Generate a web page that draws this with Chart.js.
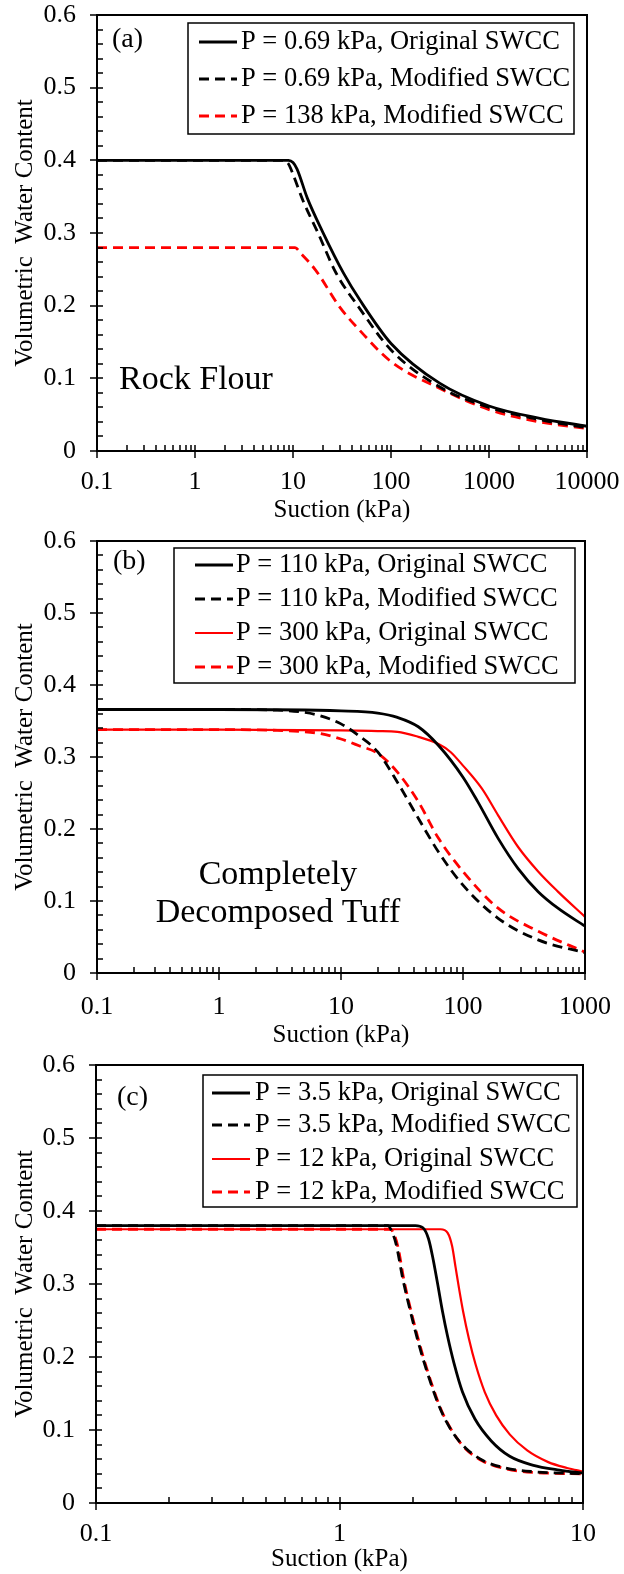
<!DOCTYPE html>
<html>
<head>
<meta charset="utf-8">
<script src="https://cdn.jsdelivr.net/npm/chart.js@4.4.0/dist/chart.umd.min.js"></script>
<style>
  html, body { margin: 0; padding: 0; background: #fff; }
  body { position: relative; width: 624px; height: 1574px; overflow: hidden; }
  canvas { position: absolute; left: 0; }
</style>
</head>
<body>
<canvas id="panelA" width="624" height="530" style="top:0px"></canvas>
<canvas id="panelB" width="624" height="530" style="top:520px"></canvas>
<canvas id="panelC" width="624" height="534" style="top:1040px"></canvas>
<script>
// --- (a) Rock Flour ---
const aSuctionOrig069 = [0.1, 9, 10, 11, 14, 20, 33, 48, 100, 316, 1000, 3300, 10000];
const aThetaOrig069   = [0.400, 0.400, 0.397, 0.388, 0.348, 0.302, 0.244, 0.208, 0.148, 0.093, 0.062, 0.045, 0.034];
const aSuctionMod069  = [0.1, 8, 9, 10, 12.6, 18, 27.5, 48, 100, 316, 1000, 3300, 10000];
const aThetaMod069    = [0.400, 0.400, 0.395, 0.381, 0.345, 0.300, 0.245, 0.196, 0.139, 0.088, 0.060, 0.043, 0.032];
const aSuctionMod138  = [0.1, 10.5, 12, 17, 30, 48, 100, 316, 1000, 3300, 10000];
const aThetaMod138    = [0.280, 0.280, 0.272, 0.249, 0.198, 0.166, 0.123, 0.086, 0.057, 0.040, 0.031];
const aXTicks  = [0.1, 1, 10, 100, 1000, 10000];
const aXLabels = ['0.1', '1', '10', '100', '1000', '10000'];

// --- (b) Completely Decomposed Tuff ---
const bSuctionOrig110 = [0.1, 1, 10, 20, 29, 43, 63, 100, 132, 194, 283, 413, 600, 1000];
const bThetaOrig110   = [0.366, 0.366, 0.364, 0.361, 0.355, 0.342, 0.316, 0.272, 0.238, 0.187, 0.145, 0.113, 0.090, 0.065];
const bSuctionMod110  = [0.1, 1, 3, 4.5, 6.5, 10, 13.9, 20, 29, 43, 63, 100, 194, 413, 1000];
const bThetaMod110    = [0.366, 0.366, 0.365, 0.363, 0.358, 0.346, 0.330, 0.307, 0.265, 0.215, 0.168, 0.122, 0.076, 0.046, 0.028];
const bSuctionOrig300 = [0.1, 1, 10, 20, 29, 43, 63, 79, 100, 143, 194, 283, 413, 600, 1000];
const bThetaOrig300   = [0.338, 0.338, 0.337, 0.336, 0.335, 0.328, 0.318, 0.307, 0.288, 0.256, 0.219, 0.175, 0.141, 0.113, 0.078];
const bSuctionMod300  = [0.1, 1, 3, 4.5, 6.5, 10, 13.9, 20, 29, 43, 63, 100, 194, 413, 1000];
const bThetaMod300    = [0.338, 0.338, 0.337, 0.3355, 0.333, 0.325, 0.316, 0.305, 0.279, 0.238, 0.187, 0.141, 0.090, 0.058, 0.029];
const bXTicks  = [0.1, 1, 10, 100, 1000];
const bXLabels = ['0.1', '1', '10', '100', '1000'];

// --- (c) ---
const cSuctionOrig35 = [0.1, 2.05, 2.2, 2.32, 2.42, 2.53, 2.65, 2.78, 2.95, 3.2, 3.6, 4.2, 5.0, 6.2, 8.0, 10];
const cThetaOrig35   = [0.380, 0.380, 0.377, 0.362, 0.335, 0.300, 0.262, 0.228, 0.192, 0.152, 0.115, 0.085, 0.064, 0.052, 0.045, 0.041];
const cSuctionMod35  = [0.1, 1.58, 1.64, 1.71, 1.82, 1.98, 2.14, 2.35, 2.6, 2.9, 3.3, 3.9, 4.8, 6.2, 10];
const cThetaMod35    = [0.380, 0.380, 0.372, 0.354, 0.307, 0.255, 0.212, 0.168, 0.128, 0.098, 0.075, 0.058, 0.048, 0.043, 0.040];
const cSuctionOrig12 = [0.1, 2.6, 2.78, 2.9, 3.0, 3.1, 3.22, 3.4, 3.62, 3.95, 4.4, 5.0, 5.9, 7.2, 8.6, 10];
const cThetaOrig12   = [0.375, 0.375, 0.370, 0.352, 0.322, 0.293, 0.262, 0.225, 0.190, 0.152, 0.120, 0.094, 0.072, 0.056, 0.048, 0.043];
const cSuctionMod12  = [0.1, 1.62, 1.68, 1.74, 1.84, 2.0, 2.16, 2.37, 2.62, 2.92, 3.3, 3.9, 4.8, 6.2, 10];
const cThetaMod12    = [0.375, 0.375, 0.367, 0.350, 0.305, 0.253, 0.211, 0.167, 0.127, 0.097, 0.074, 0.057, 0.047, 0.042, 0.040];
const cXTicks  = [0.1, 1, 10];
const cXLabels = ['0.1', '1', '10'];

// shared y axis
const yTicks  = [0, 0.1, 0.2, 0.3, 0.4, 0.5, 0.6];
const yLabels = ['0', '0.1', '0.2', '0.3', '0.4', '0.5', '0.6'];
const xTitle = 'Suction (kPa)';
const yTitle = 'Volumetric  Water Content';

const SERIF = '"Liberation Serif", "Times New Roman", serif';
const RED = '#ff0000';
const BLACK = '#000000';

const pts = (xs, ys) => xs.map((x, i) => ({ x: x, y: ys[i] }));

const series = (label, xs, ys, color, dashed, width) => ({
    label: label,
    data: pts(xs, ys),
    borderColor: color,
    backgroundColor: color,
    borderWidth: width || 2.8,
    borderDash: dashed ? [10, 6] : [],
    pointRadius: 0,
    fill: false,
    cubicInterpolationMode: 'monotone'
});

// keep label overflow from pushing the plot area around
const noPad = s => { s.paddingTop = 0; s.paddingBottom = 0; s.paddingLeft = 0; s.paddingRight = 0; };

// frame around the plot plus log/linear minor ticks
const axisFrame = {
    id: 'axisFrame',
    afterDatasetsDraw(chart) {
        const { ctx, chartArea: { left, right, top, bottom }, scales: { x, y } } = chart;
        ctx.save();
        ctx.strokeStyle = '#000';
        ctx.lineWidth = 1.5;
        ctx.beginPath();
        // x: minor ticks inside, majors crossing the axis
        for (let d = x.min; d < x.max * 0.999; d *= 10) {
            const px = Math.round(x.getPixelForValue(d));
            ctx.moveTo(px, bottom - 6); ctx.lineTo(px, bottom + 7);
            for (let k = 2; k <= 9; k++) {
                const mx = Math.round(x.getPixelForValue(d * k));
                ctx.moveTo(mx, bottom); ctx.lineTo(mx, bottom - 6);
            }
        }
        const xe = Math.round(x.getPixelForValue(x.max));
        ctx.moveTo(xe, bottom - 6); ctx.lineTo(xe, bottom + 7);
        // y: minor every 0.02
        for (let i = 0; i <= 30; i++) {
            const py = Math.round(y.getPixelForValue(i * 0.02));
            if (i % 5 === 0) { ctx.moveTo(left - 7, py); ctx.lineTo(left + 6, py); }
            else { ctx.moveTo(left, py); ctx.lineTo(left + 6, py); }
        }
        ctx.stroke();
        ctx.lineWidth = 2;
        ctx.strokeRect(left, top, right - left, bottom - top);
        ctx.restore();
    }
};

// boxed legend inside the plot area
const boxLegend = {
    id: 'boxLegend',
    afterDraw(chart, args, o) {
        const ctx = chart.ctx;
        const [x1, y1, x2, y2] = o.box;
        ctx.save();
        ctx.fillStyle = '#fff';
        ctx.fillRect(x1, y1, x2 - x1, y2 - y1);
        ctx.strokeStyle = '#000';
        ctx.lineWidth = 1.5;
        ctx.strokeRect(x1, y1, x2 - x1, y2 - y1);
        ctx.font = '26.5px ' + SERIF;
        ctx.textBaseline = 'middle';
        chart.data.datasets.forEach((ds, i) => {
            const ly = o.rows[i];
            ctx.strokeStyle = ds.borderColor;
            ctx.lineWidth = ds.borderWidth;
            ctx.setLineDash(ds.borderDash);
            ctx.beginPath();
            ctx.moveTo(o.line[0], ly);
            ctx.lineTo(o.line[1], ly);
            ctx.stroke();
            ctx.setLineDash([]);
            ctx.fillStyle = '#000';
            ctx.fillText(ds.label, o.textX, ly);
        });
        ctx.restore();
    }
};

// panel tag and material name
const notes = {
    id: 'notes',
    afterDraw(chart, args, o) {
        const ctx = chart.ctx;
        ctx.save();
        ctx.fillStyle = '#000';
        ctx.textBaseline = 'middle';
        o.items.forEach(n => {
            ctx.font = n.size + 'px ' + SERIF;
            ctx.textAlign = n.align || 'left';
            ctx.fillText(n.text, n.x, n.y);
        });
        ctx.restore();
    }
};

function makePanel(id, p) {
    return new Chart(document.getElementById(id), {
        type: 'line',
        data: { datasets: p.datasets },
        options: {
            responsive: false,
            animation: false,
            devicePixelRatio: 1,
            layout: { padding: { top: p.top, right: p.right, left: 0, bottom: 0 } },
            plugins: {
                legend: { display: false },
                tooltip: { enabled: false },
                boxLegend: p.legend,
                notes: { items: p.notes }
            },
            scales: {
                x: {
                    type: 'logarithmic',
                    min: p.xTicks[0],
                    max: p.xTicks[p.xTicks.length - 1],
                    afterBuildTicks: s => { s.ticks = p.xTicks.map(v => ({ value: v })); },
                    afterFit: s => { s.height = p.xHeight; noPad(s); },
                    grid: { display: false, drawTicks: false },
                    border: { display: false },
                    ticks: {
                        autoSkip: false, maxRotation: 0, padding: p.xPad, color: '#000',
                        font: { family: SERIF, size: 26 },
                        callback: (v, i) => p.xLabels[i]
                    },
                    title: {
                        display: true, text: xTitle, color: '#000',
                        font: { family: SERIF, size: 25 },
                        padding: { top: 0, bottom: p.xTitlePad }
                    }
                },
                y: {
                    type: 'linear',
                    min: 0,
                    max: 0.6,
                    afterBuildTicks: s => { s.ticks = yTicks.map(v => ({ value: v })); },
                    afterFit: s => { s.width = p.yWidth; noPad(s); },
                    grid: { display: false, drawTicks: false },
                    border: { display: false },
                    ticks: {
                        padding: 21, color: '#000',
                        font: { family: SERIF, size: 26 },
                        callback: (v, i) => yLabels[i]
                    },
                    title: {
                        display: true, text: yTitle, color: '#000',
                        font: { family: SERIF, size: 25 },
                        padding: { top: 10, bottom: 0 }
                    }
                }
            }
        },
        plugins: [axisFrame, boxLegend, notes]
    });
}

makePanel('panelA', {
    top: 15, right: 37, yWidth: 97, xHeight: 79, xPad: 16, xTitlePad: 5,
    xTicks: aXTicks, xLabels: aXLabels,
    datasets: [
        series('P = 0.69 kPa, Original SWCC', aSuctionOrig069, aThetaOrig069, BLACK, false),
        series('P = 0.69 kPa, Modified SWCC', aSuctionMod069, aThetaMod069, BLACK, true),
        series('P = 138 kPa, Modified SWCC', aSuctionMod138, aThetaMod138, RED, true)
    ],
    legend: { box: [188, 23, 574, 134], rows: [42, 79, 116], line: [199, 237], textX: 241 },
    notes: [
        { text: '(a)', x: 112, y: 40, size: 28 },
        { text: 'Rock Flour', x: 119, y: 380, size: 34 }
    ]
});

makePanel('panelB', {
    top: 21, right: 39, yWidth: 97, xHeight: 77, xPad: 19, xTitlePad: 0,
    xTicks: bXTicks, xLabels: bXLabels,
    datasets: [
        series('P = 110 kPa, Original SWCC', bSuctionOrig110, bThetaOrig110, BLACK, false),
        series('P = 110 kPa, Modified SWCC', bSuctionMod110, bThetaMod110, BLACK, true),
        series('P = 300 kPa, Original SWCC', bSuctionOrig300, bThetaOrig300, RED, false, 2.2),
        series('P = 300 kPa, Modified SWCC', bSuctionMod300, bThetaMod300, RED, true)
    ],
    legend: { box: [174, 28, 575, 163], rows: [45, 79, 113, 147], line: [195, 233], textX: 236 },
    notes: [
        { text: '(b)', x: 113, y: 42, size: 28 },
        { text: 'Completely', x: 278, y: 355, size: 34, align: 'center' },
        { text: 'Decomposed Tuff', x: 278, y: 393, size: 34, align: 'center' }
    ]
});

makePanel('panelC', {
    top: 25, right: 41, yWidth: 96, xHeight: 71, xPad: 16, xTitlePad: 0,
    xTicks: cXTicks, xLabels: cXLabels,
    datasets: [
        series('P = 3.5 kPa, Original SWCC', cSuctionOrig35, cThetaOrig35, BLACK, false),
        series('P = 3.5 kPa, Modified SWCC', cSuctionMod35, cThetaMod35, BLACK, true),
        series('P = 12 kPa, Original SWCC', cSuctionOrig12, cThetaOrig12, RED, false, 2.2),
        series('P = 12 kPa, Modified SWCC', cSuctionMod12, cThetaMod12, RED, true)
    ],
    legend: { box: [203, 35, 577, 167], rows: [53, 85, 119, 152], line: [212, 250], textX: 255 },
    notes: [
        { text: '(c)', x: 117, y: 58, size: 28 }
    ]
});
</script>
</body>
</html>
